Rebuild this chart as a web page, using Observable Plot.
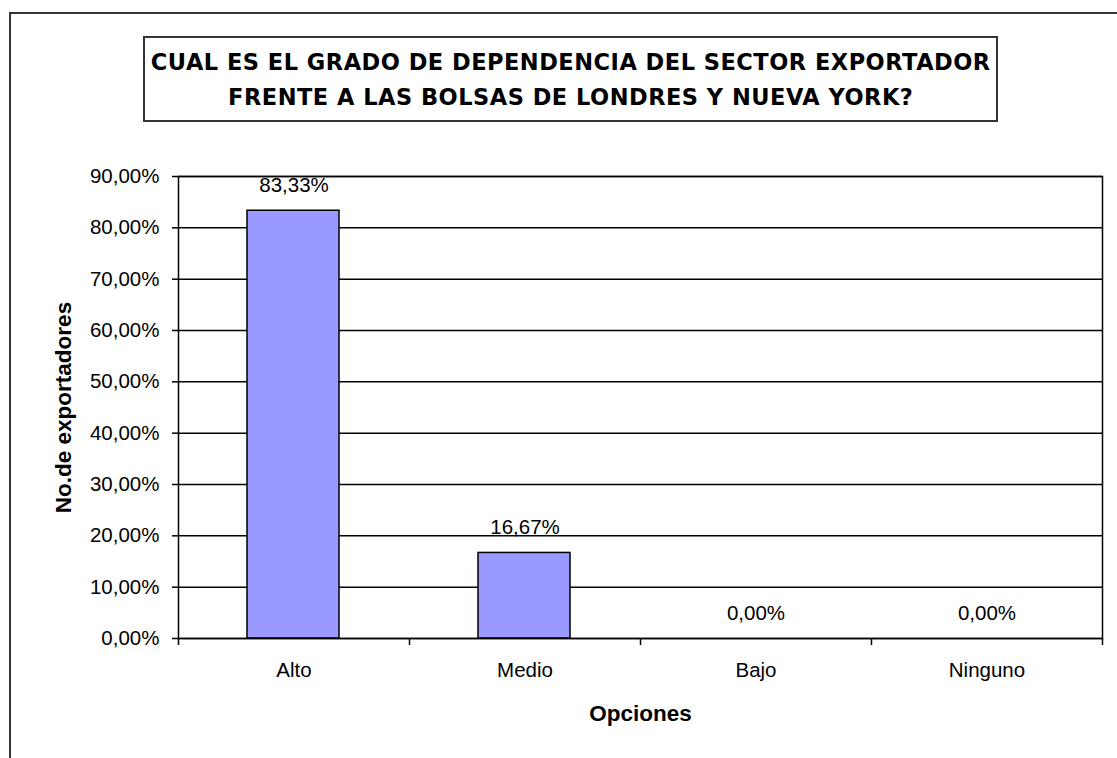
<!DOCTYPE html>
<html>
<head>
<meta charset="utf-8">
<script src="https://cdn.jsdelivr.net/npm/d3@7"></script>
<script src="https://cdn.jsdelivr.net/npm/@observablehq/plot@0.6"></script>
<style>
  html, body { margin: 0; padding: 0; background: #fff; overflow: hidden; }
  #wrap { position: relative; width: 1117px; height: 758px; overflow: hidden; background: #fff; }
  #outer { position: absolute; left: 9px; top: 12px; width: 1300px; height: 900px; border: 2px solid #333; box-sizing: border-box; }
  #title { position: absolute; left: 143px; top: 36px; width: 855px; height: 86px; border: 2px solid #333; box-sizing: border-box;
           font-family: "DejaVu Sans", Verdana, sans-serif; font-weight: bold; font-size: 22.5px;
           text-align: center; color: #000; white-space: nowrap; }
  #title div { position: absolute; left: 0; right: 0; height: 30px; line-height: 30px; }
  #chart { position: absolute; left: 0; top: 0; }
</style>
</head>
<body>
<div id="wrap">
  <div id="outer"></div>
  <div id="title">
    <div id="t1" style="top:9px"><span>CUAL ES EL GRADO DE DEPENDENCIA DEL SECTOR EXPORTADOR</span></div>
    <div id="t2" style="top:44px"><span>FRENTE A LAS BOLSAS DE LONDRES Y NUEVA YORK?</span></div>
  </div>
  <div id="chart"></div>
</div>
<script>
const categories = ["Alto", "Medio", "Bajo", "Ninguno"];
const values = [83.33, 16.67, 0, 0];
const yTicks = [0, 10, 20, 30, 40, 50, 60, 70, 80, 90];
const yLabel = "No.de exportadores";
const xLabel = "Opciones";

// fit title line 1 to ~840px using letter spacing
(function () {
  const s1 = document.querySelector("#t1 span");
  const w = s1.getBoundingClientRect().width;
  const n = s1.textContent.length;
  const ls = (840 - w) / n;
  const t = document.getElementById("title");
  t.style.letterSpacing = ls.toFixed(2) + "px";
  t.style.textIndent = ls.toFixed(2) + "px";
})();

const fmt = d => d.toFixed(2).replace(".", ",") + "%";
const data = categories.map((c, i) => ({cat: c, i, value: values[i]}));
const boundaries = d3.range(categories.length + 1);
const centers = categories.map((c, i) => i + 0.5);

const chart = Plot.plot({
  width: 1117,
  height: 758,
  marginLeft: 178,
  marginRight: 15,
  marginTop: 176,
  marginBottom: 120,
  x: {type: "linear", domain: [0, categories.length]},
  y: {domain: [0, 90]},
  style: {fontFamily: "'Liberation Sans', Arial, sans-serif", fontSize: "20.5px", color: "#000", background: "transparent"},
  marks: [
    Plot.ruleY(yTicks, {stroke: "#000", strokeWidth: 1.5}),
    Plot.rectY(data, {x1: "i", x2: d => d.i + 1, y: "value", insetLeft: 69, insetRight: 70, fill: "#9999ff", stroke: "#000", strokeWidth: 1.5}),
    Plot.frame({stroke: "#000", strokeWidth: 1.5}),
    Plot.axisY({ticks: yTicks, tickSize: 6, tickPadding: 13, tickFormat: fmt, fontSize: 20.5, label: null, stroke: "#000", strokeWidth: 1.5}),
    Plot.axisX({ticks: boundaries, tickSize: 7, tickFormat: () => "", label: null, stroke: "#000", strokeWidth: 1.5}),
    Plot.axisX({ticks: centers, tickSize: 0, tickPadding: 24, tickFormat: v => categories[Math.round(v - 0.5)], fontSize: 20.5, label: null}),
    Plot.text(data, {x: d => d.i + 0.5, y: "value", text: d => fmt(d.value), dy: -25, fontSize: 20.5, fill: "#000"}),
    Plot.text([yLabel], {text: d => d, frameAnchor: "left", rotate: -90, dx: -115, textAnchor: "middle", lineAnchor: "middle", fontWeight: "bold", fontSize: 22.5, fill: "#000"}),
    Plot.text([xLabel], {text: d => d, frameAnchor: "bottom", dy: 75, textAnchor: "middle", lineAnchor: "middle", fontWeight: "bold", fontSize: 22.5, fill: "#000"})
  ]
});
document.getElementById("chart").appendChild(chart);
</script>
</body>
</html>
